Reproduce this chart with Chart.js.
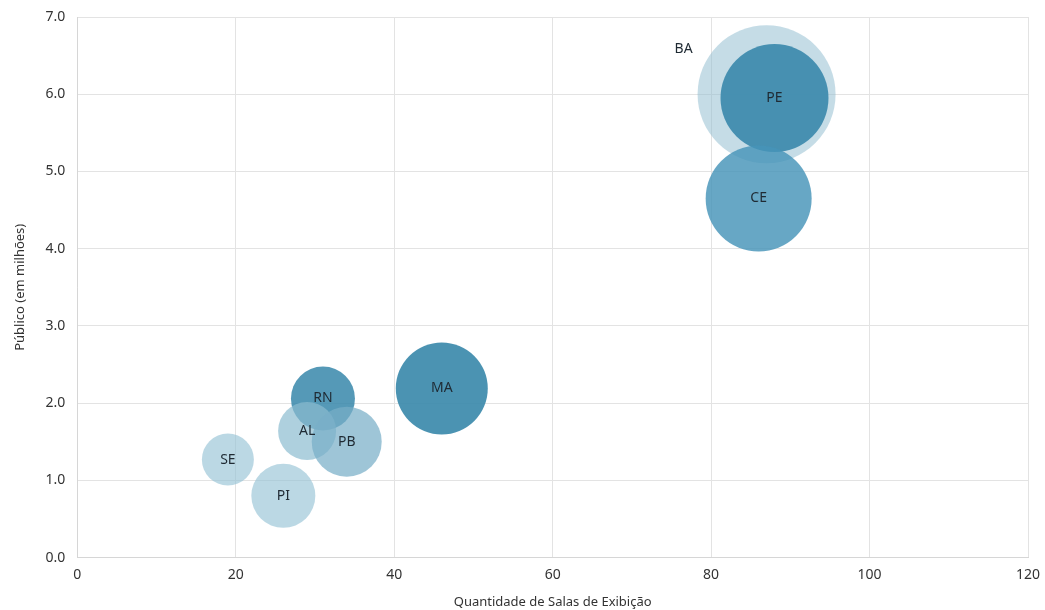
<!DOCTYPE html>
<html>
<head>
<meta charset="utf-8">
<script src="https://cdn.jsdelivr.net/npm/chart.js@4/dist/chart.umd.min.js"></script>
<style>
  html, body { margin: 0; padding: 0; background: #fff; }
  #wrap { width: 1045px; height: 610px; }
</style>
</head>
<body>
<div id="wrap"><canvas id="chart" width="1045" height="610"></canvas></div>
<script>
// states, x = salas de exibição, y = público (milhões), size = bubble radius
var states = ['BA', 'PE', 'CE', 'MA', 'RN', 'AL', 'PB', 'SE', 'PI'];
var salas = [87, 88, 86, 46, 31, 29, 34, 19, 26];
var publico = [6.0, 5.95, 4.65, 2.19, 2.06, 1.64, 1.5, 1.27, 0.8];
var tamanho = [69, 54, 53, 46, 32, 29, 35, 26, 32];
var cores = [
    'rgba(150,192,210,0.55)',
    'rgba(58,136,172,0.9)',
    'rgba(70,148,184,0.82)',
    'rgba(55,135,170,0.9)',
    'rgba(55,135,170,0.85)',
    'rgba(140,188,208,0.7)',
    'rgba(120,175,200,0.72)',
    'rgba(150,195,214,0.65)',
    'rgba(150,195,214,0.65)'
];

var points = states.map(function(s, i) {
    return { x: salas[i], y: publico[i], r: tamanho[i] };
});

var labelPlugin = {
    id: 'bubbleLabels',
    afterDatasetsDraw: function(chart) {
        var ctx = chart.ctx;
        var meta = chart.getDatasetMeta(0);
        ctx.save();
        ctx.font = '14px "Noto Sans"';
        ctx.fillStyle = '#1f2a33';
        ctx.textAlign = 'center';
        ctx.textBaseline = 'middle';
        meta.data.forEach(function(el, i) {
            var dx = 0, dy = 0;
            if (states[i] === 'BA') { dx = -83; dy = -45; }
            ctx.fillText(states[i], el.x + dx, el.y + dy);
        });
        ctx.restore();
    }
};

new Chart(document.getElementById('chart'), {
    type: 'bubble',
    data: {
        datasets: [{
            data: points,
            backgroundColor: cores,
            borderWidth: 0,
            hoverRadius: 0,
            clip: false
        }]
    },
    plugins: [labelPlugin],
    options: {
        responsive: false,
        animation: false,
        layout: { autoPadding: false, padding: { top: 17, right: 17, left: 12, bottom: 0 } },
        plugins: {
            legend: { display: false },
            tooltip: { enabled: false }
        },
        scales: {
            x: {
                min: 0,
                max: 120,
                afterFit: function(scale) { scale.paddingRight = 0; },
                ticks: {
                    stepSize: 20,
                    color: '#333',
                    font: { family: 'Noto Sans', size: 14 },
                    padding: 9
                },
                grid: { color: '#e3e3e3', drawTicks: false },
                border: { color: '#d6d6d6' },
                title: {
                    display: true,
                    text: 'Quantidade de Salas de Exibição',
                    color: '#333',
                    font: { family: 'Noto Sans', size: 13 },
                    padding: { top: 2, bottom: 0 }
                }
            },
            y: {
                min: 0,
                max: 7,
                afterFit: function(scale) { scale.paddingTop = 0; },
                ticks: {
                    stepSize: 1,
                    color: '#333',
                    font: { family: 'Noto Sans', size: 14 },
                    padding: 12,
                    callback: function(v) { return v.toFixed(1); }
                },
                grid: { color: '#e3e3e3', drawTicks: false },
                border: { color: '#d6d6d6' },
                title: {
                    display: true,
                    text: 'Público (em milhões)',
                    color: '#333',
                    font: { family: 'Noto Sans', size: 13 },
                    padding: { top: 0, bottom: 6 }
                }
            }
        }
    }
});
</script>
</body>
</html>
